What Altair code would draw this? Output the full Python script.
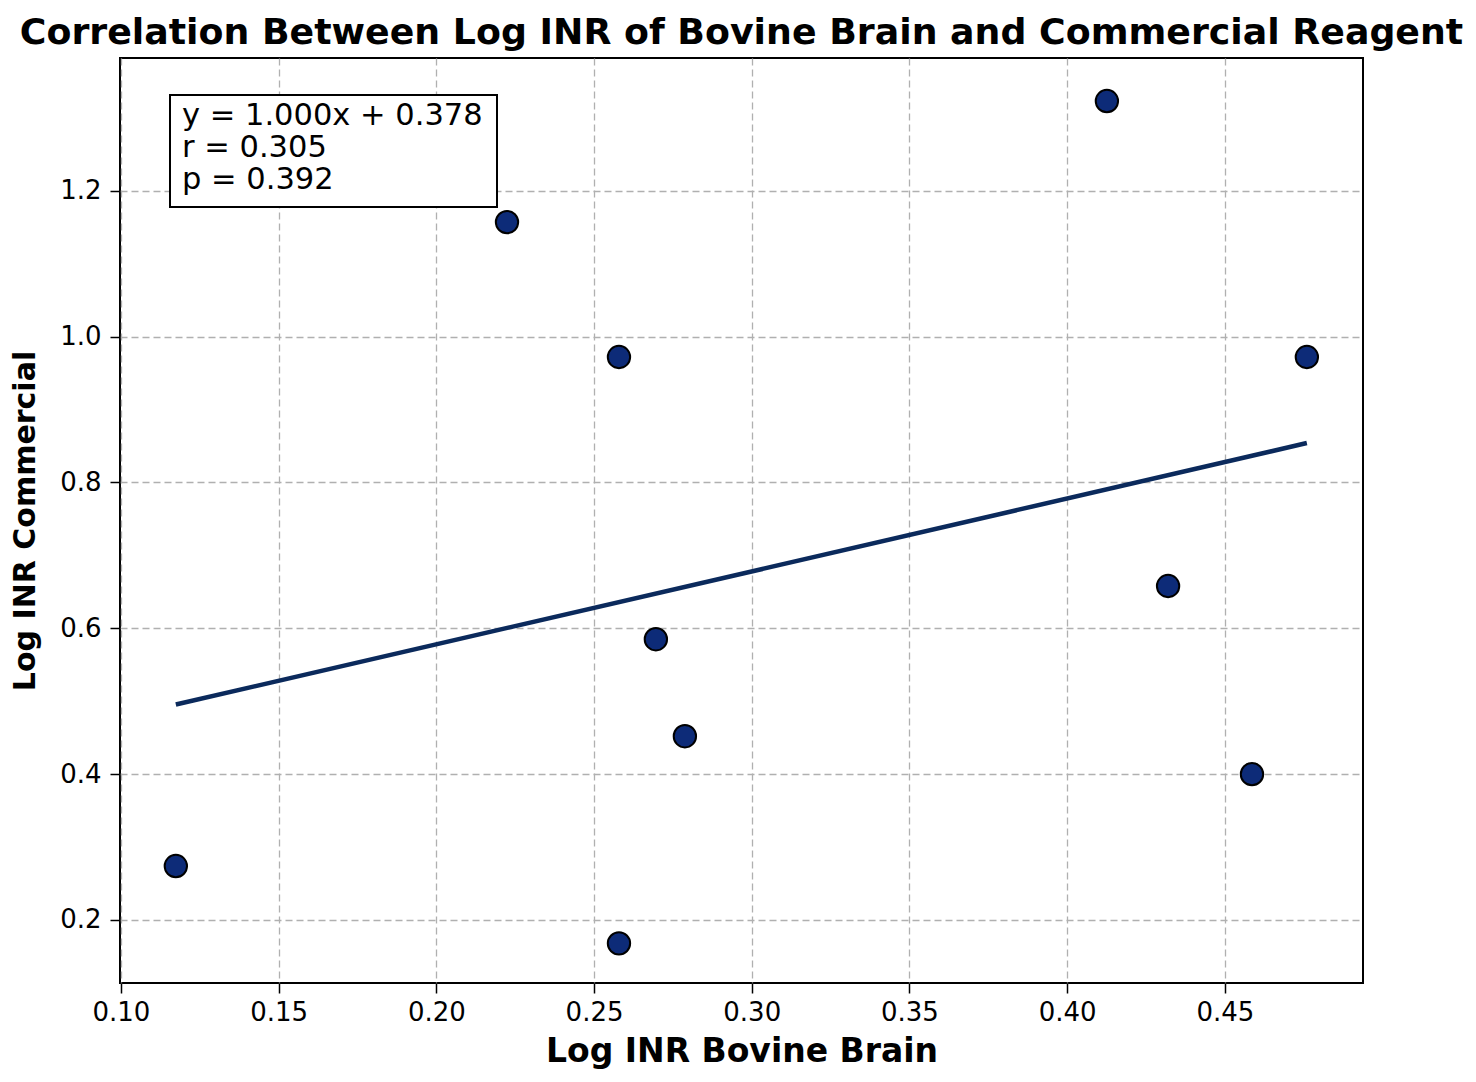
import altair as alt
import pandas as pd

# Data
bovine = [0.1174, 0.2224, 0.2579, 0.2579, 0.2696, 0.2788, 0.4126, 0.4320, 0.4586, 0.4760]
commercial = [0.274, 1.157, 0.972, 0.168, 0.585, 0.452, 1.323, 0.658, 0.400, 0.972]

slope = 1.000
intercept = 0.378
r_value = 0.305
p_value = 0.392

x_ticks = [0.10, 0.15, 0.20, 0.25, 0.30, 0.35, 0.40, 0.45]
y_ticks = [0.2, 0.4, 0.6, 0.8, 1.0, 1.2]

title_text = "Correlation Between Log INR of Bovine Brain and Commercial Reagent"

FONT = "DejaVu Sans"
W, H = 1243, 925

pts = pd.DataFrame({"x": bovine, "y": commercial})
lx = [min(bovine), max(bovine)]
line_df = pd.DataFrame({"x": lx, "y": [slope * v + intercept for v in lx]})

x_scale = alt.Scale(domain=[0.0997, 0.4938], nice=False, zero=False)
y_scale = alt.Scale(domain=[0.1136, 1.382], nice=False, zero=False)

x_enc = alt.X("x:Q", scale=x_scale, title="Log INR Bovine Brain",
              axis=alt.Axis(values=x_ticks, format=".2f", titleY=68, titleBaseline="middle",
                            titleFontSize=33, labelPadding=6))
y_enc = alt.Y("y:Q", scale=y_scale, title="Log INR Commercial",
              axis=alt.Axis(values=y_ticks, format=".1f", titleX=-95, titleBaseline="middle",
                            titleFontSize=30, labelPadding=9))

line = alt.Chart(line_df).mark_line(color="#0b2a5c", strokeWidth=4.5).encode(x=x_enc, y=y_enc)

points = alt.Chart(pts).mark_point(
    filled=True, fill="#0d2b78", stroke="black", strokeWidth=2, size=500, opacity=1
).encode(x="x:Q", y="y:Q")

one = pd.DataFrame({"a": [0]})

box = alt.Chart(one).mark_rect(
    fill="white", stroke="black", strokeWidth=2
).encode(x=alt.value(50), x2=alt.value(377), y=alt.value(37), y2=alt.value(149))

lines_text = [f"y = {slope:.3f}x + {intercept:.3f}", f"r = {r_value:.3f}", f"p = {p_value:.3f}"]
texts = []
for i, t in enumerate(lines_text):
    texts.append(
        alt.Chart(one).mark_text(
            text=t, font=FONT, fontSize=30.5, align="left", baseline="middle", color="black"
        ).encode(x=alt.value(62), y=alt.value(58 + 32 * i))
    )

title = alt.Chart(one).mark_text(
    text=title_text, font=FONT, fontSize=36.3, fontWeight="bold",
    align="center", baseline="middle", color="black"
).encode(x=alt.value(W / 2), y=alt.value(-25))

chart = alt.layer(line, points, box, *texts, title).properties(
    width=W, height=H,
    autosize=alt.AutoSizeParams(type="none"),
    padding={"left": 112, "top": 50, "right": 100, "bottom": 90},
).configure_view(
    stroke="black", strokeWidth=2
).configure_axis(
    labelFont=FONT, labelFontSize=26, labelColor="black", labelFlush=False,
    titleFont=FONT, titleFontWeight="bold", titleColor="black",
    domain=False, ticks=True, tickColor="black", tickSize=10, tickWidth=1.5,
    grid=True, gridColor="#b0b0b0", gridDash=[7, 4], gridWidth=1.3,
)

chart.save("out.html", embed_options={"renderer": "svg", "actions": False})
